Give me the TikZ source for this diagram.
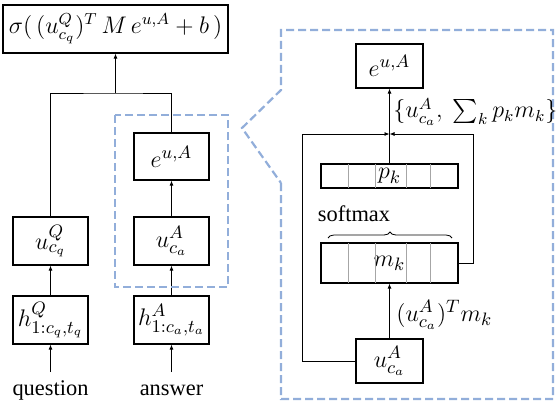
\documentclass[tikz,border=0pt]{standalone}
\usepackage{fontspec}
\setmainfont{Liberation Serif}
\usepackage{amsmath}
\usetikzlibrary{positioning}
\usetikzlibrary{arrows.meta}
\usetikzlibrary{decorations.pathreplacing}
\definecolor{calloutblue}{RGB}{146,174,218}
\tikzset{
	blk/.style={draw, line width=0.6pt, inner sep=0pt, font=\fontsize{13}{15}\selectfont},
	cellrow/.style={draw, line width=0.6pt, inner sep=0pt, minimum width=68.5pt, font=\fontsize{13}{15}\selectfont},
	conn/.style={line width=0.4pt, -{Latex[length=2.5pt,width=2pt]}},
	wire/.style={line width=0.4pt},
	zoomline/.style={calloutblue, line width=1.1pt, dash pattern=on 4pt off 2pt},
	txt/.style={font=\fontsize{11.2}{13}\selectfont, inner sep=0pt},
}
\begin{document}
\begin{tikzpicture}[x=0.5pt,y=-0.5pt]
		\useasboundingbox (0,0) rectangle (560,407);
		% left part: question / answer encoders
		\node[blk, font=\fontsize{12}{14}\selectfont, minimum width=112.5pt, minimum height=24pt] (score) at (115.5,29) {$\sigma(\,(u^{Q}_{c_q})^{T}\,M\,e^{u,A}+b\,)$};
		\node[blk, minimum width=37.5pt, minimum height=23.5pt] (eL) at (171.5,156.5) {$e^{u,A}$};
		\node[blk, minimum width=37.5pt, minimum height=24pt] (uQ) at (50.5,241) {$u^{Q}_{c_q}$};
		\node[blk, minimum width=37.5pt, minimum height=24pt] (uA) at (171.5,241) {$u^{A}_{c_a}$};
		\node[blk, minimum width=37.5pt, minimum height=24pt] (hQ) at (50.5,320) {$h^{Q}_{1:c_q,t_q}$};
		\node[blk, minimum width=37.5pt, minimum height=24pt] (hA) at (171.5,320) {$h^{A}_{1:c_a,t_a}$};
		\node[txt] (question) at (50.5,390) {question};
		\node[txt] (answer) at (171.5,390) {answer};
		\coordinate (qin) at (50.5,372);
		\coordinate (ain) at (171.5,372);
		\coordinate (join) at (115.5,93);
		
		\draw[conn] (qin) -- (hQ);
		\draw[conn] (ain) -- (hA);
		\draw[conn] (hQ) -- (uQ);
		\draw[conn] (hA) -- (uA);
		\draw[conn] (uA) -- (eL);
		\draw[wire] (uQ.north) |- (join) -| (eL.north);
		\draw[conn] (join) -- (score.south);
		
		\draw[zoomline] (115,115) rectangle (228,287);
		\draw[zoomline] (281,183) -- (281,399) -- (553,399) -- (553,30) -- (281,30) -- (281,90) -- (242,128) -- cycle;
		
		% right part: attention over memory
		\node[blk, minimum width=33.5pt, minimum height=22pt] (eR) at (389.5,66) {$e^{u,A}$};
		\node[cellrow, minimum height=12pt] (pk) at (389.5,176) {$p_k$};
		\node[cellrow, minimum height=20pt] (mk) at (389.5,263) {$m_k$};
		\node[blk, minimum width=33.5pt, minimum height=22pt] (uR) at (389.5,361) {$u^{A}_{c_a}$};
		\foreach \xx in {348,375,406,430} {
			\draw[line width=0.3pt, gray!70] (\xx,164) -- (\xx,188);
			\draw[line width=0.3pt, gray!70] (\xx,243) -- (\xx,283);
		}
		\node[txt] (softmax) at (354,214) {softmax};
		\draw[wire, decorate, decoration={brace, amplitude=3pt}] (328,238) -- (452,238);
		\coordinate (jn) at (389.5,134);
		\coordinate (lc) at (302,134);
		\coordinate (rc) at (473,134);
		
		\draw[conn] (uR) -- (mk);
		\draw[conn] (pk) -- (eR);
		\draw[wire] (uR.west) -| (lc);
		\draw[conn] (lc) -- (jn);
		\draw[wire] (mk.east) -| (rc);
		\draw[conn] (rc) -- (jn);
		
		\node[anchor=west, inner sep=0pt, font=\fontsize{12}{14}\selectfont] (readout) at (393,112) {$\{u^{A}_{c_a},\ \sum_k p_k m_k\}$};
		\node[anchor=west, inner sep=0pt, font=\fontsize{12.5}{14}\selectfont] (match) at (396,315) {$(u^{A}_{c_a})^{T} m_k$};
	\end{tikzpicture}
\end{document}
